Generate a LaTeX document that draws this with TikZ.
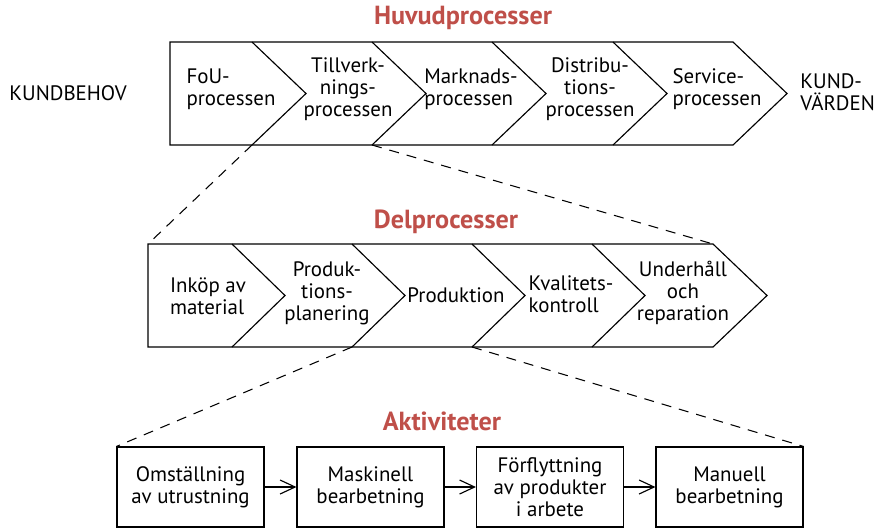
\documentclass[tikz,border=0pt]{standalone}
\usepackage{fontspec}
\setmainfont{PT Sans}
\usetikzlibrary{arrows.meta,positioning}
\definecolor{titlered}{RGB}{191,79,73}
\tikzset{
  chev/.style={line width=0.65pt},
  txt/.style={font=\fontsize{11.9}{12.5}\selectfont, inner sep=0pt},
  lefttxt/.style={txt, align=left},
  midtxt/.style={txt, align=center},
  heading/.style={font=\fontsize{14.9}{16}\selectfont\bfseries, text=titlered, inner sep=0pt},
  actbox/.style={draw, line width=0.65pt, minimum width=2.94cm, minimum height=1.6cm, align=center,
    font=\fontsize{11.9}{12.5}\selectfont, inner sep=0pt},
  zoomline/.style={line width=0.6pt, dash pattern=on 2mm off 1.6mm},
  flow/.style={line width=0.65pt, -{Straight Barb[length=3mm,width=2.8mm]}}
}
\begin{document}
\begin{tikzpicture}[x=0.02cm,y=-0.02cm]
  \useasboundingbox (0,0) rectangle (878,529);
  % Huvudprocesser
  \node[heading] (huvud) at (463,18) {Huvudprocesser};
  \draw[chev] (170,42) -- (733,42) -- (787,93.5) -- (733,145) -- (170,145) -- cycle;
  \foreach \x [count=\i] in {252,372,492,613,733} {
    \coordinate (ht\i) at (\x,42);
    \coordinate (hb\i) at (\x,145);
  }
  \foreach \i in {1,...,4} \draw[chev] (ht\i) -- ++(54,51.5) -- (hb\i);
  \node[txt] (behov) at (68,93) {KUNDBEHOV};
  \node[lefttxt] (fou) at (231,89) {FoU-\\processen};
  \node[midtxt] (tillv) at (348,89) {Tillverk-\\nings-\\processen};
  \node[lefttxt] (markn) at (471,89) {Marknads-\\processen};
  \node[midtxt] (distr) at (590,89) {Distribu-\\tions-\\processen};
  \node[lefttxt] (serv) at (717,89) {Service-\\processen};
  \node[lefttxt, anchor=west] (varden) at (800,92) {KUND-\\VÄRDEN};

  % Delprocesser
  \node[heading] (delpr) at (446,222) {Delprocesser};
  \draw[chev] (148,244) -- (713,244) -- (767,295.5) -- (713,347) -- (148,347) -- cycle;
  \foreach \x [count=\i] in {232,352,472,592,713} {
    \coordinate (dt\i) at (\x,244);
    \coordinate (db\i) at (\x,347);
  }
  \foreach \i in {1,...,4} \draw[chev] (dt\i) -- ++(53,51.5) -- (db\i);
  \coordinate (dl) at (148,244);
  \node[lefttxt] (inkop) at (208,296) {Inköp av\\material};
  \node[midtxt] (plan) at (327,293) {Produk-\\tions-\\planering};
  \node[txt] (prod) at (456,295) {Produktion};
  \node[lefttxt] (kval) at (571,294) {Kvalitets-\\kontroll};
  \node[midtxt] (underh) at (683,293) {Underhåll\\och\\reparation};

  \draw[zoomline] (hb1) -- (dl);
  \draw[zoomline] (hb2) -- (dt5);

  % Aktiviteter
  \node[heading] (aktiv) at (442,421) {Aktiviteter};
  \node[actbox] (omst) at (190.5,487) {Omställning\\av utrustning};
  \node[actbox] (mask) at (370.5,487) {Maskinell\\bearbetning};
  \node[actbox] (forfl) at (550,487) {Förflyttning\\av produkter\\i arbete};
  \node[actbox] (manuell) at (729.5,487) {Manuell\\bearbetning};
  \draw[flow] (omst) -- (mask);
  \draw[flow] (mask) -- (forfl);
  \draw[flow] (forfl) -- (manuell);

  \draw[zoomline] (db2) -- (omst.north west);
  \draw[zoomline] (db3) -- (manuell.north east);
\end{tikzpicture}
\end{document}
